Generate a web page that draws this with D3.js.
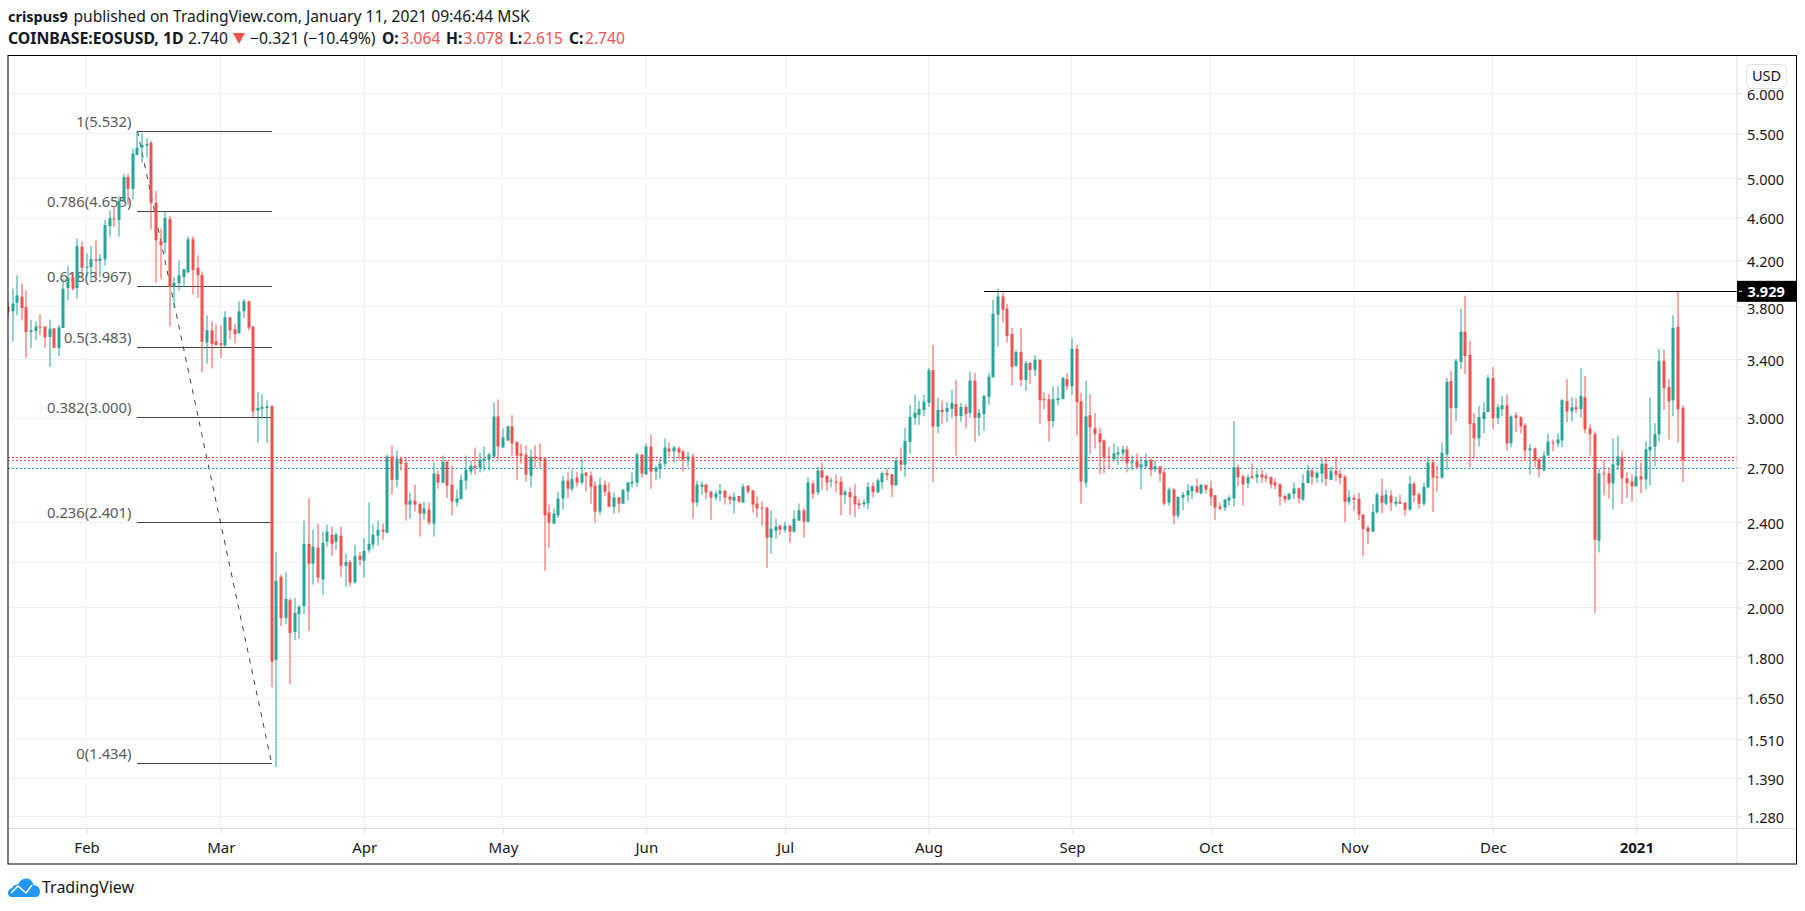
<!DOCTYPE html>
<html><head><meta charset="utf-8">
<script src="https://cdnjs.cloudflare.com/ajax/libs/d3/7.8.5/d3.min.js"></script>
<style>html,body{margin:0;padding:0;background:#fff}svg{display:block}text{font-family:"Noto Sans",sans-serif}</style>
</head><body><div id="c"></div>
<script>
const opens=[3.801,3.765,3.834,3.885,3.798,3.603,3.610,3.645,3.645,3.565,
3.630,3.482,3.633,3.957,4.047,3.957,4.321,4.135,4.138,4.205,
4.193,4.208,4.515,4.590,4.574,4.766,5.016,4.889,5.258,5.340,
5.362,5.395,4.745,4.373,4.358,4.584,3.968,3.997,4.050,4.093,
4.391,4.132,4.067,3.522,3.615,3.532,3.517,3.502,3.717,3.622,
3.592,3.765,3.847,3.645,3.045,3.058,3.062,3.076,1.789,2.136,
1.957,2.032,1.899,1.973,2.007,2.292,2.197,2.273,2.125,2.302,
2.337,2.302,2.332,2.187,2.205,2.110,2.234,2.210,2.263,2.288,
2.332,2.362,2.347,2.761,2.628,2.749,2.725,2.492,2.513,2.497,
2.445,2.466,2.393,2.659,2.612,2.731,2.600,2.503,2.522,2.623,
2.674,2.708,2.696,2.737,2.743,2.761,3.008,2.815,2.858,2.945,
2.847,2.779,2.773,2.651,2.761,2.755,2.749,2.450,2.393,2.436,
2.525,2.623,2.578,2.640,2.612,2.669,2.651,2.595,2.455,2.600,
2.558,2.481,2.530,2.497,2.562,2.606,2.612,2.773,2.657,2.821,
2.674,2.691,2.719,2.809,2.791,2.809,2.791,2.743,2.761,2.503,
2.589,2.600,2.562,2.530,2.551,2.567,2.534,2.513,2.539,2.503,
2.595,2.567,2.497,2.476,2.476,2.322,2.357,2.382,2.362,2.382,
2.352,2.408,2.461,2.403,2.606,2.558,2.680,2.651,2.617,2.617,
2.617,2.544,2.559,2.537,2.499,2.494,2.499,2.593,2.559,2.614,
2.665,2.659,2.597,2.737,2.714,2.849,2.998,3.018,3.050,3.098,
3.320,2.943,3.050,3.037,3.057,3.089,3.011,3.070,3.031,3.246,
3.000,3.024,3.136,3.269,3.738,3.886,3.786,3.587,3.352,3.452,
3.251,3.371,3.321,3.395,3.121,3.121,2.978,3.114,3.121,3.258,
3.209,3.475,3.107,2.612,3.016,2.933,2.902,2.858,2.762,2.745,
2.774,2.780,2.804,2.722,2.733,2.698,2.704,2.739,2.687,2.704,
2.670,2.503,2.574,2.434,2.529,2.542,2.564,2.591,2.553,2.599,
2.580,2.542,2.481,2.476,2.514,2.525,2.698,2.647,2.608,2.647,
2.642,2.658,2.647,2.642,2.613,2.602,2.539,2.520,2.550,2.580,
2.519,2.609,2.679,2.638,2.662,2.719,2.627,2.679,2.662,2.644,
2.507,2.528,2.523,2.439,2.372,2.352,2.451,2.541,2.497,2.541,
2.497,2.507,2.502,2.465,2.606,2.546,2.497,2.585,2.727,2.646,
2.640,2.774,3.244,3.062,3.379,3.604,3.430,2.965,2.871,2.990,
3.036,3.265,2.997,3.055,3.081,2.840,3.016,3.003,2.952,2.798,
2.810,2.745,2.681,2.768,2.846,2.840,2.858,3.107,3.040,3.068,
3.055,3.134,2.933,2.896,2.307,2.664,2.664,2.608,2.710,2.757,
2.636,2.618,2.591,2.647,2.630,2.798,2.820,2.896,3.387,3.202,
3.114,3.642,3.064];
const highs=[3.842,3.951,4.067,3.995,3.937,3.698,3.683,3.741,3.645,3.698,
3.630,3.658,4.032,4.147,4.096,4.398,4.370,4.260,4.327,4.380,
4.254,4.578,4.670,4.707,4.810,5.044,5.044,5.326,5.532,5.506,
5.446,5.417,4.867,4.493,4.663,4.617,4.052,4.198,4.120,4.420,
4.420,4.244,4.099,3.733,3.683,3.660,3.653,3.765,3.717,3.668,
3.847,3.864,3.847,3.645,3.170,3.155,3.113,3.080,2.250,2.146,
2.157,2.041,2.041,2.012,2.408,2.527,2.362,2.393,2.352,2.388,
2.378,2.347,2.378,2.244,2.215,2.288,2.253,2.321,2.503,2.388,
2.408,2.393,2.773,2.827,2.797,2.761,2.755,2.556,2.600,2.497,
2.508,2.503,2.725,2.680,2.767,2.737,2.708,2.572,2.657,2.767,
2.737,2.815,2.785,2.821,2.785,3.100,3.120,2.932,2.950,3.015,
2.853,2.835,2.827,2.803,2.827,2.839,2.755,2.492,2.471,2.562,
2.651,2.669,2.685,2.674,2.749,2.669,2.674,2.617,2.640,2.623,
2.612,2.558,2.534,2.578,2.617,2.669,2.785,2.773,2.839,2.893,
2.708,2.755,2.870,2.847,2.827,2.821,2.803,2.791,2.779,2.623,
2.617,2.606,2.567,2.567,2.606,2.572,2.544,2.558,2.539,2.606,
2.595,2.572,2.534,2.508,2.481,2.461,2.418,2.388,2.403,2.388,
2.461,2.497,2.476,2.640,2.623,2.702,2.725,2.651,2.640,2.657,
2.646,2.572,2.586,2.603,2.521,2.521,2.614,2.614,2.636,2.676,
2.693,2.659,2.754,2.815,2.937,3.083,3.150,3.111,3.150,3.338,
3.505,3.131,3.111,3.104,3.185,3.253,3.096,3.089,3.310,3.302,
3.057,3.150,3.302,3.858,3.954,3.919,3.825,3.635,3.467,3.635,
3.386,3.379,3.430,3.395,3.168,3.155,3.209,3.209,3.272,3.300,
3.557,3.504,3.163,3.246,3.155,3.030,2.939,2.864,2.820,2.839,
2.820,2.826,2.826,2.768,2.780,2.751,2.780,2.751,2.739,2.704,
2.687,2.585,2.580,2.534,2.561,2.603,2.597,2.634,2.605,2.599,
2.622,2.542,2.503,2.520,2.542,2.978,2.715,2.658,2.658,2.722,
2.687,2.687,2.664,2.647,2.636,2.608,2.545,2.556,2.613,2.585,
2.659,2.713,2.691,2.679,2.750,2.761,2.702,2.761,2.685,2.656,
2.571,2.545,2.555,2.444,2.382,2.497,2.557,2.634,2.573,2.568,
2.533,2.546,2.507,2.650,2.617,2.557,2.611,2.761,2.745,2.708,
2.843,3.265,3.314,3.401,3.786,3.892,3.534,3.029,3.075,3.101,
3.286,3.342,3.088,3.142,3.155,3.016,3.036,3.009,2.965,2.837,
2.816,2.751,2.793,2.902,2.864,2.902,3.121,3.258,3.134,3.127,
3.335,3.279,2.959,2.914,2.693,2.739,2.698,2.871,2.889,2.793,
2.670,2.658,2.739,2.727,2.852,3.134,2.965,3.475,3.467,3.258,
3.735,3.929,3.078];
const lows=[3.720,3.527,3.733,3.693,3.407,3.482,3.539,3.577,3.482,3.343,
3.482,3.422,3.633,3.853,3.937,3.870,4.067,4.052,4.023,4.032,
4.052,4.153,4.414,4.509,4.414,4.753,4.725,4.780,5.253,5.169,
5.226,4.486,4.003,4.032,4.260,3.645,3.792,3.937,3.965,4.085,
3.904,3.873,3.307,3.367,3.333,3.507,3.407,3.482,3.547,3.517,
3.592,3.710,3.615,2.996,2.843,2.994,2.843,1.688,1.423,1.923,
1.931,1.698,1.867,1.871,1.973,1.903,2.100,2.110,2.055,2.278,
2.234,2.263,2.136,2.091,2.094,2.105,2.187,2.133,2.249,2.268,
2.283,2.312,2.347,2.546,2.585,2.680,2.408,2.418,2.455,2.327,
2.413,2.388,2.327,2.578,2.606,2.527,2.436,2.481,2.518,2.572,
2.657,2.657,2.669,2.680,2.680,2.749,2.743,2.815,2.853,2.767,
2.628,2.719,2.617,2.585,2.696,2.696,2.163,2.273,2.393,2.422,
2.466,2.527,2.562,2.589,2.600,2.562,2.497,2.398,2.436,2.539,
2.481,2.445,2.450,2.497,2.513,2.585,2.589,2.640,2.657,2.578,
2.628,2.634,2.702,2.761,2.725,2.743,2.674,2.702,2.418,2.481,
2.544,2.522,2.413,2.513,2.508,2.492,2.492,2.445,2.503,2.503,
2.551,2.450,2.424,2.382,2.178,2.244,2.317,2.337,2.347,2.297,
2.347,2.408,2.322,2.398,2.522,2.544,2.572,2.567,2.585,2.558,
2.436,2.497,2.437,2.426,2.468,2.478,2.468,2.532,2.553,2.576,
2.625,2.532,2.593,2.676,2.644,2.778,2.955,2.955,3.011,3.070,
2.614,2.904,2.962,2.974,3.000,2.766,2.974,2.931,3.000,2.849,
2.886,2.918,3.083,3.269,3.492,3.675,3.520,3.215,3.343,3.209,
3.177,3.224,3.279,2.959,3.055,2.852,2.939,3.082,3.121,3.182,
3.150,2.889,2.498,2.585,2.774,2.810,2.658,2.664,2.693,2.733,
2.710,2.733,2.670,2.681,2.693,2.574,2.693,2.647,2.670,2.618,
2.487,2.487,2.391,2.419,2.461,2.503,2.520,2.553,2.547,2.553,
2.487,2.413,2.464,2.459,2.487,2.481,2.591,2.487,2.580,2.636,
2.608,2.608,2.613,2.580,2.574,2.487,2.503,2.514,2.520,2.498,
2.511,2.609,2.600,2.610,2.610,2.593,2.627,2.621,2.605,2.400,
2.491,2.459,2.411,2.232,2.290,2.352,2.446,2.446,2.487,2.459,
2.482,2.497,2.434,2.459,2.502,2.470,2.487,2.580,2.454,2.563,
2.634,2.681,2.895,2.978,3.328,3.293,2.698,2.751,2.822,2.902,
3.036,2.927,2.959,3.010,2.798,2.816,2.908,2.902,2.739,2.658,
2.698,2.641,2.675,2.762,2.793,2.816,2.816,2.971,2.978,3.029,
3.003,2.902,2.768,1.978,2.250,2.542,2.525,2.466,2.681,2.498,
2.529,2.508,2.591,2.553,2.574,2.597,2.704,2.852,3.050,2.864,
3.009,2.846,2.615];
const closes=[3.760,3.828,3.895,3.792,3.603,3.615,3.645,3.638,3.562,3.628,
3.482,3.638,3.951,4.047,3.951,4.327,4.132,4.141,4.208,4.193,
4.214,4.525,4.593,4.584,4.766,5.016,4.889,5.272,5.337,5.370,
5.380,4.745,4.382,4.336,4.593,3.965,4.002,4.067,4.120,4.391,
4.111,4.067,3.527,3.615,3.512,3.502,3.502,3.717,3.615,3.585,
3.765,3.847,3.638,3.041,3.064,3.071,3.073,1.782,2.118,1.956,
2.037,1.895,1.977,2.003,2.292,2.197,2.278,2.133,2.297,2.352,
2.292,2.337,2.187,2.205,2.110,2.234,2.215,2.258,2.292,2.337,
2.362,2.352,2.761,2.628,2.749,2.719,2.492,2.513,2.492,2.445,
2.471,2.398,2.663,2.612,2.731,2.595,2.508,2.525,2.628,2.685,
2.708,2.696,2.743,2.749,2.773,3.008,2.821,2.876,2.945,2.841,
2.767,2.767,2.657,2.761,2.749,2.743,2.436,2.398,2.445,2.525,
2.623,2.578,2.634,2.612,2.663,2.651,2.589,2.455,2.600,2.562,
2.481,2.530,2.497,2.572,2.612,2.617,2.773,2.663,2.821,2.674,
2.696,2.719,2.815,2.791,2.815,2.785,2.743,2.761,2.503,2.600,
2.600,2.558,2.530,2.551,2.567,2.530,2.518,2.534,2.508,2.589,
2.562,2.492,2.471,2.471,2.322,2.367,2.378,2.362,2.382,2.352,
2.418,2.461,2.403,2.612,2.551,2.680,2.640,2.612,2.623,2.613,
2.544,2.562,2.532,2.494,2.489,2.505,2.587,2.559,2.625,2.665,
2.654,2.597,2.737,2.714,2.855,3.005,3.031,3.057,3.104,3.320,
2.943,3.050,3.037,3.063,3.096,3.011,3.070,3.024,3.246,3.000,
3.031,3.143,3.274,3.746,3.886,3.778,3.572,3.343,3.452,3.251,
3.371,3.321,3.395,3.114,3.114,2.978,3.121,3.127,3.265,3.209,
3.475,3.101,2.618,3.009,2.939,2.896,2.847,2.757,2.751,2.780,
2.786,2.804,2.722,2.733,2.698,2.716,2.739,2.685,2.704,2.664,
2.498,2.574,2.434,2.534,2.545,2.569,2.591,2.559,2.599,2.574,
2.534,2.476,2.470,2.520,2.529,2.698,2.642,2.602,2.642,2.636,
2.658,2.642,2.636,2.602,2.597,2.534,2.520,2.550,2.580,2.525,
2.610,2.679,2.644,2.668,2.719,2.633,2.679,2.656,2.638,2.507,
2.533,2.518,2.439,2.365,2.352,2.454,2.546,2.502,2.546,2.502,
2.507,2.497,2.465,2.606,2.541,2.497,2.588,2.727,2.640,2.640,
2.785,3.237,3.062,3.387,3.604,3.422,2.959,2.871,3.003,3.036,
3.265,2.997,3.068,3.081,2.840,3.009,2.997,2.946,2.798,2.810,
2.739,2.687,2.768,2.852,2.840,2.864,3.114,3.040,3.068,3.055,
3.142,2.927,2.896,2.312,2.664,2.658,2.608,2.716,2.762,2.636,
2.608,2.591,2.647,2.630,2.804,2.820,2.896,3.387,3.196,3.107,
3.634,3.055,2.740];

const firstDay=Date.UTC(2020,0,15);
const priceTicks=[6,5.5,5,4.6,4.2,3.8,3.4,3,2.7,2.4,2.2,2,1.8,1.65,1.51,1.39,1.28];
const monthTicks=[[2020,1],[2020,2],[2020,3],[2020,4],[2020,5],[2020,6],[2020,7],[2020,8],[2020,9],[2020,10],[2020,11],[2021,0]];
const monthLabels=["Feb","Mar","Apr","May","Jun","Jul","Aug","Sep","Oct","Nov","Dec","2021"];
const fibRatios=["1","0.786","0.618","0.5","0.382","0.236","0"];
const fibPrices=[5.532,4.655,3.967,3.483,3.000,2.401,1.434];
const fibStartIndex=28, fibEndIndex=57;
const resistancePrice=3.929, resistanceStartIndex=211;
const priceLines=[[2.756,"#ef5350"],[2.740,"#ef5350"],[2.691,"#2196f3"]];

const W=1805,H=911;
const L=8,R=1796.5,T=55.5,B=864,axisX=1737,axisY=828.5;
const svg=d3.select("#c").append("svg").attr("width",W).attr("height",H);
const x=d3.scaleUtc().domain([Date.UTC(2020,1,1),Date.UTC(2021,0,1)]).range([86.6,1636.3]);
const y=d3.scaleLog().domain([6,1.28]).range([93,816.7]);
const dayX=i=>x(d3.utcDay.offset(new Date(firstDay),i));
const candles=opens.map((o,i)=>({i,o,h:highs[i],l:lows[i],c:closes[i]}));
const up="#26a69a",dn="#ef5350",ink="#131722";

svg.append("defs").append("clipPath").attr("id","pane").append("rect").attr("x",L).attr("y",T).attr("width",axisX-L).attr("height",axisY-T);

// grid
const pane=svg.append("g").attr("clip-path","url(#pane)");
const monthDates=monthTicks.map(m=>new Date(Date.UTC(m[0],m[1],1)));
pane.append("g").attr("shape-rendering","crispEdges").selectAll("line").data(monthDates).join("line")
 .attr("x1",d=>x(d)).attr("x2",d=>x(d)).attr("y1",T).attr("y2",axisY).attr("stroke","#eff0f2").attr("stroke-width",1);
pane.append("g").attr("shape-rendering","crispEdges").selectAll("line").data(priceTicks).join("line")
 .attr("x1",L).attr("x2",axisX).attr("y1",d=>y(d)).attr("y2",d=>y(d)).attr("stroke","#eff0f2").attr("stroke-width",1);

// fib labels + levels + dashed trend
const fx0=dayX(fibStartIndex),fx1=dayX(fibEndIndex);
pane.append("g").attr("shape-rendering","crispEdges").selectAll("line").data(fibPrices).join("line")
 .attr("x1",fx0-0.5).attr("x2",fx1).attr("y1",d=>y(d)).attr("y2",d=>y(d)).attr("stroke","#434343").attr("stroke-width",1);
pane.append("g").selectAll("text").data(fibPrices).join("text")
 .attr("x",fx0-6).attr("y",d=>y(d)-4.5).attr("text-anchor","end").attr("font-size",14.8).attr("fill","#5a5a5a")
 .text((d,i)=>`${fibRatios[i]}(${d.toFixed(3)})`);
pane.append("line").attr("x1",fx0).attr("y1",y(fibPrices[0])).attr("x2",fx1).attr("y2",y(fibPrices[6]))
 .attr("stroke","#434343").attr("stroke-width",1).attr("stroke-dasharray","5 6");

// price lines
pane.append("g").attr("shape-rendering","crispEdges").selectAll("line").data(priceLines).join("line")
 .attr("x1",L).attr("x2",axisX).attr("y1",d=>y(d[0])).attr("y2",d=>y(d[0])).attr("stroke",d=>d[1]).attr("stroke-width",1).attr("stroke-dasharray","2 2");

// candles
const cg=pane.append("g").selectAll("g").data(candles).join("g")
 .attr("fill",d=>d.c>=d.o?up:dn);
const cx=d=>Math.round(dayX(d.i));
cg.append("rect").attr("x",d=>cx(d)-0.5).attr("width",1)
 .attr("y",d=>y(d.h)).attr("height",d=>Math.max(1,y(d.l)-y(d.h)));
cg.append("rect").attr("x",d=>cx(d)-1.5).attr("width",3)
 .attr("y",d=>y(Math.max(d.o,d.c))).attr("height",d=>Math.max(1,Math.abs(y(d.o)-y(d.c))));

// resistance
pane.append("line").attr("x1",dayX(resistanceStartIndex)).attr("x2",axisX)
 .attr("y1",y(resistancePrice)).attr("y2",y(resistancePrice)).attr("stroke","#000").attr("stroke-width",1).attr("shape-rendering","crispEdges");

// axes
const yAxis=d3.axisRight(y).tickValues(priceTicks).tickFormat(d3.format(".3f")).tickSize(5).tickPadding(5);
const gy=svg.append("g").attr("transform",`translate(${axisX},0)`).call(yAxis);
gy.select(".domain").remove();
gy.selectAll(".tick line").attr("stroke","#e0e0e0");
gy.selectAll(".tick text").attr("font-size",14.5).attr("fill",ink).attr("font-family",'"Noto Sans",sans-serif').attr("dy","0.42em");
const xAxis=d3.axisBottom(x).tickValues(monthDates).tickFormat((d,i)=>monthLabels[i]).tickSize(5).tickPadding(9);
const gx=svg.append("g").attr("transform",`translate(0,${axisY})`).call(xAxis);
gx.select(".domain").remove();
gx.selectAll(".tick line").attr("stroke","#e0e0e0");
gx.selectAll(".tick text").attr("font-size",15).attr("fill",ink).attr("font-family",'"Noto Sans",sans-serif')
 .attr("font-weight",(d,i)=>monthLabels[i]==="2021"?"bold":"normal");
svg.append("line").attr("x1",L).attr("x2",R).attr("y1",axisY).attr("y2",axisY).attr("stroke","#e0e0e0");
svg.append("line").attr("x1",axisX).attr("x2",axisX).attr("y1",T).attr("y2",B).attr("stroke","#e0e0e0");

// frame
svg.append("rect").attr("x",L).attr("y",T).attr("width",R-L).attr("height",B-T).attr("fill","none").attr("stroke","#000").attr("stroke-width",1);

// last price box
svg.append("rect").attr("x",axisX).attr("y",y(resistancePrice)-10.5).attr("width",59).attr("height",21).attr("fill","#000");
svg.append("line").attr("x1",axisX+2).attr("x2",axisX+5).attr("y1",y(resistancePrice)).attr("y2",y(resistancePrice)).attr("stroke","#fff");
svg.append("text").attr("x",axisX+10.5).attr("y",y(resistancePrice)+5.5).attr("font-size",14.5).attr("font-weight","bold").attr("fill","#fff").text(resistancePrice.toFixed(3));

// USD
svg.append("rect").attr("x",1746.7).attr("y",64.5).attr("width",39.5).attr("height",24).attr("rx",4).attr("fill","#fff").attr("fill-opacity",0.85).attr("stroke","#e0e3eb");
svg.append("text").attr("x",1766.5).attr("y",81).attr("text-anchor","middle").attr("font-size",14.5).attr("fill",ink).text("USD");

// header
const head=(tx,ty,s,o={})=>svg.append("text").attr("x",tx).attr("y",ty).attr("font-size",o.size||15.6).attr("font-weight",o.b?"bold":"normal").attr("fill",o.c||ink).text(s);
head(8,22,"crispus9",{b:1,size:14.5});
head(73.5,22,"published on TradingView.com, January 11, 2021 09:46:44 MSK");
head(8,44,"COINBASE:EOSUSD, 1D",{b:1,size:15.8});
head(188,44,"2.740");
svg.append("path").attr("d","M233,33 L245,33 L239,44 Z").attr("fill",dn);
head(250,44,"\u22120.321 (\u221210.49%)",{size:15.8});
const ohlc=[["O:",382,"3.064",400.5],["H:",446,"3.078",463.5],["L:",509,"2.615",523],["C:",569,"2.740",585]];
ohlc.forEach(r=>{head(r[1],44,r[0],{b:1});head(r[3],44,r[2],{c:dn});});

// logo
const logo=svg.append("g").attr("transform","translate(8,878)");
logo.append("path").attr("d","M4 19 Q0 19 0 15 Q0 11 4 10 Q6 6 10 6.5 Q13 0 19 0.5 Q24 1 25.5 7 Q32 8 32 13.5 Q32 19 27 19 Z").attr("fill","#2196f3");
logo.append("path").attr("d","M3 15 L10 8 L18 15 L24 7").attr("fill","none").attr("stroke","#fff").attr("stroke-width",1.5);
svg.append("text").attr("x",42).attr("y",893).attr("font-size",16).attr("fill",ink).text("TradingView");
</script></body></html>
